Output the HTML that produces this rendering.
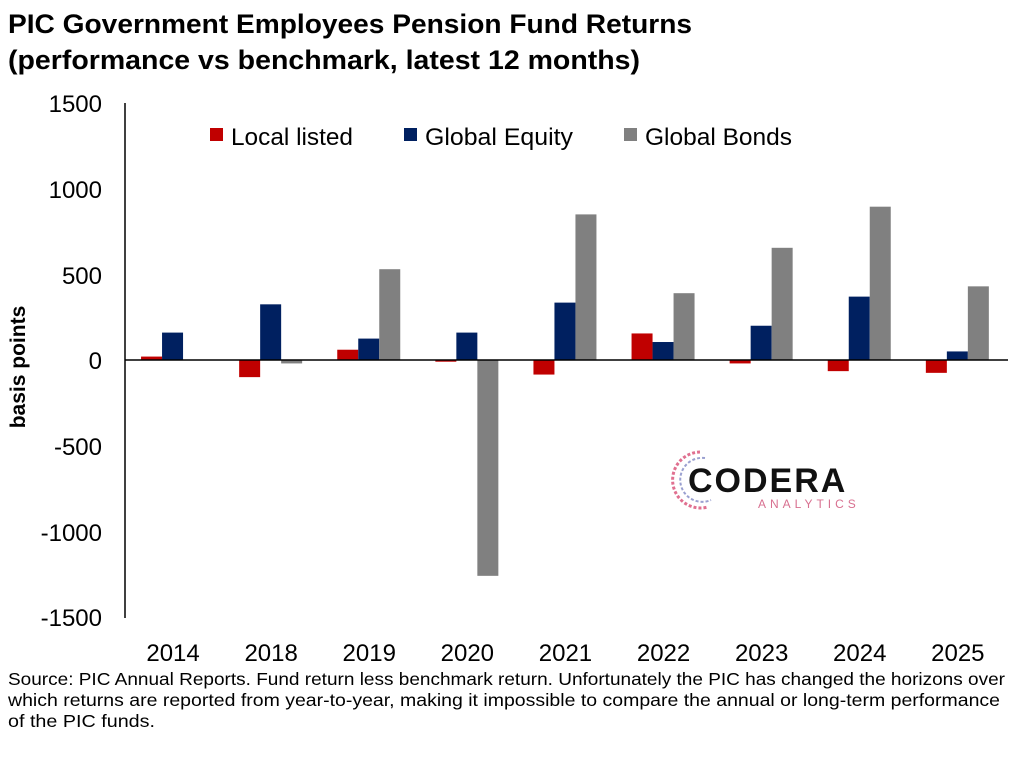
<!DOCTYPE html>
<html><head><meta charset="utf-8"><style>
body{margin:0;background:#fff;width:1024px;height:752px;overflow:hidden}
svg{font-family:"Liberation Sans",sans-serif}
</style></head><body>
<svg id="s" width="1024" height="752" xmlns="http://www.w3.org/2000/svg">
<text x="8" y="33" font-size="27" font-weight="bold" fill="#000" textLength="684" lengthAdjust="spacingAndGlyphs">PIC Government Employees Pension Fund Returns</text>
<text x="8" y="69" font-size="27" font-weight="bold" fill="#000" textLength="632" lengthAdjust="spacingAndGlyphs">(performance vs benchmark, latest 12 months)</text>
<g font-size="24" fill="#000" text-anchor="end">
<text x="102" y="112">1500</text><text x="102" y="198">1000</text><text x="102" y="284">500</text>
<text x="102" y="369">0</text><text x="102" y="455">-500</text><text x="102" y="541">-1000</text><text x="102" y="626">-1500</text>
</g>
<text transform="translate(25,367) rotate(-90)" font-size="21" font-weight="bold" text-anchor="middle" fill="#000">basis points</text>
<g id="bars"></g>
<line x1="125" y1="103" x2="125" y2="618" stroke="#000" stroke-width="1.5"/>
<line x1="125" y1="360" x2="1008" y2="360" stroke="#000" stroke-width="1.5"/>
<g font-size="24" fill="#000">
<rect x="210" y="128" width="13" height="13" fill="#c00000"/><text x="231" y="145" textLength="122" lengthAdjust="spacingAndGlyphs">Local listed</text>
<rect x="404" y="128" width="13" height="13" fill="#002060"/><text x="425" y="145" textLength="148" lengthAdjust="spacingAndGlyphs">Global Equity</text>
<rect x="624" y="128" width="13" height="13" fill="#808080"/><text x="645" y="145" textLength="147" lengthAdjust="spacingAndGlyphs">Global Bonds</text>
</g>
<g id="xl" font-size="24" fill="#000" text-anchor="middle"></g>
<g>
<path d="M700 452 a28 28 0 1 0 8 55" fill="none" stroke="#e07090" stroke-width="3" stroke-dasharray="3 2"/>
<path d="M705 458 a22 22 0 1 0 6 42" fill="none" stroke="#9aa0d0" stroke-width="2" stroke-dasharray="3 2"/>
<text x="688" y="492" font-size="34" font-weight="bold" fill="#111" letter-spacing="2">CODERA</text>
<text x="758" y="508" font-size="12" fill="#d87090" letter-spacing="4">ANALYTICS</text>
</g>
<g font-size="17.5" fill="#000">
<text x="8" y="685" textLength="997" lengthAdjust="spacingAndGlyphs">Source: PIC Annual Reports. Fund return less benchmark return. Unfortunately the PIC has changed the horizons over</text>
<text x="8" y="706" textLength="992" lengthAdjust="spacingAndGlyphs">which returns are reported from year-to-year, making it impossible to compare the annual or long-term performance</text>
<text x="8" y="727" textLength="147" lengthAdjust="spacingAndGlyphs">of the PIC funds.</text>
</g>
</svg>
<script>
var yrs=["2014","2018","2019","2020","2021","2022","2023","2024","2025"];
var d=[[20,160,0],[-100,325,-20],[60,125,530],[-10,160,-1260],[-85,335,850],[155,105,390],[-20,200,655],[-65,370,895],[-75,50,430]];
var cols=["#c00000","#002060","#808080"],ns="http://www.w3.org/2000/svg";
var g=document.getElementById("bars"),xl=document.getElementById("xl");
for(var i=0;i<9;i++){var cx=125+98.1*(i+0.5)-1;
for(var j=0;j<3;j++){var v=d[i][j];if(!v)continue;var h=Math.abs(v)*0.1713;
var r=document.createElementNS(ns,"rect");r.setAttribute("x",cx-32+j*21);r.setAttribute("width",21);
r.setAttribute("y",v>0?360-h:360);r.setAttribute("height",h);r.setAttribute("fill",cols[j]);g.appendChild(r);}
var t=document.createElementNS(ns,"text");t.setAttribute("x",cx);t.setAttribute("y",661);t.textContent=yrs[i];xl.appendChild(t);}
</script>
</body></html>
